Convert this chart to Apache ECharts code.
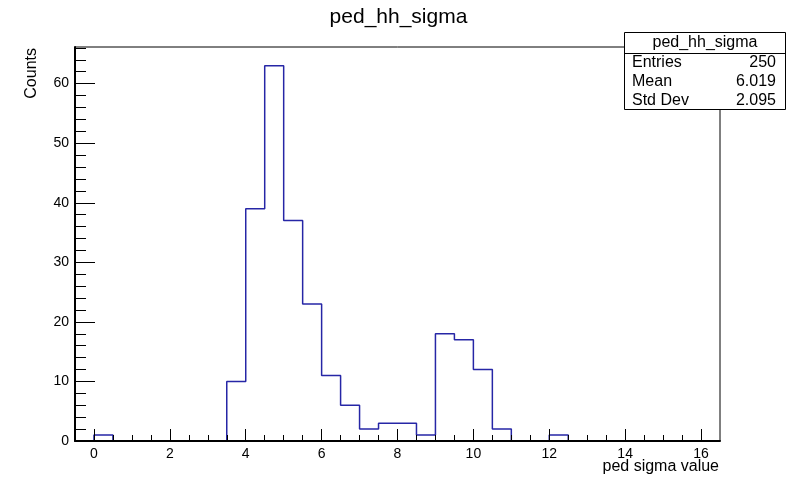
<!DOCTYPE html>
<html>
<head>
<meta charset="utf-8">
<script src="https://cdn.jsdelivr.net/npm/echarts@6/dist/echarts.min.js"></script>
<style>
  html, body { margin: 0; padding: 0; background: #fff; }
  #chart { width: 797px; height: 479px; }
</style>
</head>
<body>
<div id="chart"></div>
<script>
// Histogram of ped_hh_sigma: 34 bins of width 0.5 from -0.5 to 16.5
const histName = 'ped_hh_sigma';
const xTitle = 'ped sigma value';
const yTitle = 'Counts';
const xStart = -0.5;
const binWidth = 0.5;
const counts = [
  0, 1, 0, 0, 0, 0, 0, 0,          // -0.5 .. 3.5
  10, 39, 63, 37, 23, 11, 6, 2,    // 3.5 .. 7.5
  3, 3, 1, 18, 17, 12, 2, 0,       // 7.5 .. 11.5
  0, 1, 0, 0, 0, 0, 0, 0, 0, 0     // 11.5 .. 16.5
];
const xMajorLabels = [0, 2, 4, 6, 8, 10, 12, 14, 16];
const yMajorLabels = [0, 10, 20, 30, 40, 50, 60];
const yMax = 66.15;
const statNames = ['Entries', 'Mean', 'Std Dev'];
const statValues = ['250', '6.019', '2.095'];

const FONT = "'Liberation Sans', Arial, Helvetica, sans-serif";
const xEnd = xStart + binWidth * counts.length;

// step outline: each bin contributes its low edge; a final point closes the last bin
const stepPoints = counts.map((c, i) => [xStart + i * binWidth, c]);
stepPoints.push([xEnd, counts[counts.length - 1]]);

const xMinorTicks = [];
for (let v = 0; v <= 16.0001; v += 0.5) xMinorTicks.push(+v.toFixed(1));
const yMinorTicks = [];
for (let v = 0; v <= 66; v += 2) yMinorTicks.push(v);

const chart = echarts.init(document.getElementById('chart'), null, { renderer: 'canvas' });

const baseX = {
  type: 'value', min: xStart, max: xEnd, position: 'bottom', z: 10,
  splitLine: { show: false }
};
const baseY = {
  type: 'value', min: 0, max: yMax, position: 'left', z: 10,
  splitLine: { show: false }
};

chart.setOption({
  animation: false,
  backgroundColor: '#ffffff',
  title: {
    text: histName, left: 'center', top: 2,
    textStyle: { fontFamily: FONT, fontSize: 21, fontWeight: 'normal', color: '#000' }
  },
  grid: {
    left: 75, right: 77, top: 47, bottom: 38,
    show: true, borderColor: '#000', borderWidth: 1, backgroundColor: 'transparent'
  },
  xAxis: [
    Object.assign({}, baseX, {
      axisLine: { show: true, onZero: false, lineStyle: { color: '#000', width: 2 } },
      axisTick: { show: true, inside: true, length: 6, customValues: xMinorTicks, lineStyle: { color: '#000' } },
      axisLabel: {
        show: true, customValues: xMajorLabels, margin: 6, color: '#000',
        fontFamily: FONT, fontSize: 14
      }
    }),
    Object.assign({}, baseX, {
      axisLine: { show: false, onZero: false },
      axisTick: { show: true, inside: true, length: 12, customValues: xMajorLabels, lineStyle: { color: '#000' } },
      axisLabel: { show: false }
    })
  ],
  yAxis: [
    Object.assign({}, baseY, {
      axisLine: { show: true, onZero: false, lineStyle: { color: '#000', width: 2 } },
      axisTick: { show: true, inside: true, length: 11, customValues: yMinorTicks, lineStyle: { color: '#000' } },
      axisLabel: {
        show: true, customValues: yMajorLabels, margin: 6, color: '#000',
        fontFamily: FONT, fontSize: 14
      }
    }),
    Object.assign({}, baseY, {
      axisLine: { show: false, onZero: false },
      axisTick: { show: true, inside: true, length: 20, customValues: yMajorLabels, lineStyle: { color: '#000' } },
      axisLabel: { show: false }
    })
  ],
  series: [{
    name: histName,
    type: 'line',
    xAxisIndex: 0, yAxisIndex: 0,
    step: 'end',
    symbol: 'none',
    z: 1,
    lineStyle: { color: '#2626a6', width: 1.5 },
    data: stepPoints
  }],
  graphic: [
    // axis titles
    {
      type: 'text', right: 797 - 719, top: 459,
      style: { text: xTitle, fontFamily: FONT, fontSize: 16, fill: '#000', textAlign: 'right' }
    },
    {
      type: 'text', x: 24, y: 48, rotation: Math.PI / 2,
      style: { text: yTitle, fontFamily: FONT, fontSize: 16, fill: '#000', textAlign: 'right', textVerticalAlign: 'top' }
    },
    // statistics box
    {
      type: 'group', z: 100,
      children: [
        { type: 'rect', shape: { x: 624.5, y: 32.5, width: 161, height: 77 },
          style: { fill: '#fff', stroke: '#000', lineWidth: 1 } },
        { type: 'line', shape: { x1: 624.5, y1: 53.5, x2: 785.5, y2: 53.5 },
          style: { stroke: '#000', lineWidth: 1 } },
        { type: 'text', x: 705, y: 43,
          style: { text: histName, fontFamily: FONT, fontSize: 16, fill: '#000', textAlign: 'center', textVerticalAlign: 'middle' } }
      ].concat(
        statNames.map((n, i) => ({
          type: 'text', x: 632, y: 62.5 + i * 19,
          style: { text: n, fontFamily: FONT, fontSize: 16, fill: '#000', textAlign: 'left', textVerticalAlign: 'middle' }
        })),
        statValues.map((v, i) => ({
          type: 'text', x: 776, y: 62.5 + i * 19,
          style: { text: v, fontFamily: FONT, fontSize: 16, fill: '#000', textAlign: 'right', textVerticalAlign: 'middle' }
        }))
      )
    }
  ]
});
</script>
</body>
</html>
